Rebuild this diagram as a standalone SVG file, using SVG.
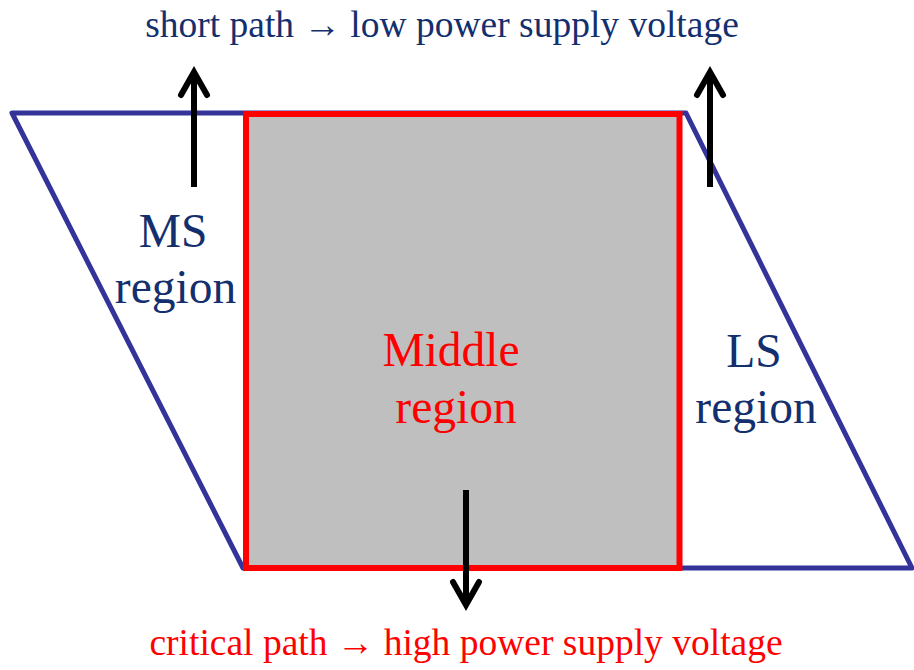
<svg xmlns="http://www.w3.org/2000/svg" width="914" height="670" viewBox="0 0 914 670">
<style>
.navy{fill:#142F6E;}
.red{fill:#FF0000;}
.big{font-size:47.5px;}
.cap{font-size:37.5px;}
.arr{stroke:#000;stroke-width:6;fill:none;stroke-linecap:butt;}
</style>
<defs>
<marker id="ah" markerUnits="userSpaceOnUse" markerWidth="40" markerHeight="40" refX="0" refY="0" viewBox="-20 -20 40 40" orient="auto" overflow="visible">
<path d="M-23,-13 L0,0 L-23,13" fill="none" stroke="#000" stroke-width="6" stroke-linecap="round" stroke-linejoin="miter"/>
</marker>
</defs>
<rect width="914" height="670" fill="#fff"/>
<g font-family="Liberation Serif, Times New Roman, serif">
<g id="parallelogram">
<polygon points="12,113 686,113 912,568 243,568" fill="none" stroke="#333399" stroke-width="5" stroke-linejoin="round"/>
</g>
<g id="middle">
<rect x="246" y="114" width="433.5" height="454" fill="#BFBFBF" stroke="#FF0000" stroke-width="6"/>
<text class="red big" x="451" y="366" text-anchor="middle">Middle</text>
<text class="red big" x="456" y="423" text-anchor="middle">region</text>
</g>
<g id="ms">
<text class="navy big" x="173" y="247" text-anchor="middle">MS</text>
<text class="navy big" x="175.5" y="303" text-anchor="middle">region</text>
</g>
<g id="ls">
<text class="navy big" x="754" y="367" text-anchor="middle">LS</text>
<text class="navy big" x="756" y="423" text-anchor="middle">region</text>
</g>
<g id="connectors">
<line class="arr" x1="194" y1="187" x2="194" y2="72" marker-end="url(#ah)"/>
<line class="arr" x1="710" y1="187" x2="710" y2="72" marker-end="url(#ah)"/>
<line class="arr" x1="466" y1="490" x2="466" y2="605" marker-end="url(#ah)"/>
</g>
<g id="captions">
<text class="navy cap" x="442" y="37" text-anchor="middle">short path → low power supply voltage</text>
<text class="red cap" x="466" y="655" text-anchor="middle">critical path → high power supply voltage</text>
</g>
</g>
</svg>
